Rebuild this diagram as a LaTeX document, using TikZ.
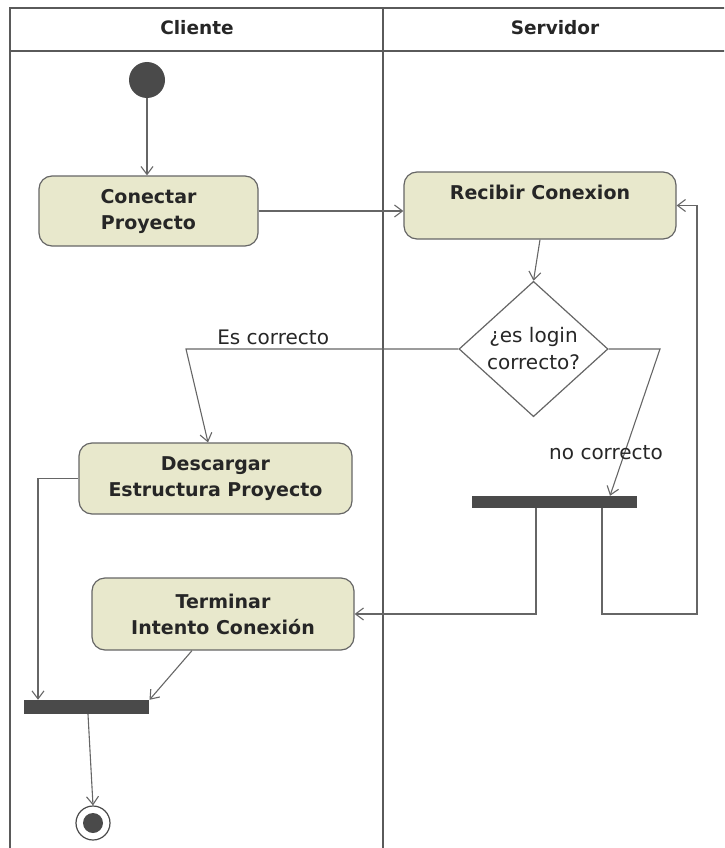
\documentclass[tikz,border=0pt]{standalone}
\usepackage{fontspec}
\setmainfont{DejaVu Sans}
\usetikzlibrary{arrows.meta,shapes.geometric}
\definecolor{actfill}{RGB}{232,232,204}
\definecolor{edge}{RGB}{102,102,102}
\definecolor{darkfill}{RGB}{74,74,74}
\definecolor{frame}{RGB}{90,90,90}
\begin{document}
\begin{tikzpicture}[x=1pt,y=-1pt,
  act/.style={draw=edge, line width=1.2pt, fill=actfill, rounded corners=13pt,
    align=center, font=\fontsize{19}{26}\selectfont\bfseries, text=black!85,
    inner sep=0pt},
  decision/.style={diamond, draw=edge, line width=1.2pt, fill=white, inner sep=0pt,
    align=center, font=\fontsize{20}{27}\selectfont, text=black!85},
  bar/.style={fill=darkfill, inner sep=0pt},
  startnode/.style={circle, fill=darkfill, inner sep=0pt, minimum size=36pt},
  endnode/.style={circle, draw=darkfill, line width=1.2pt, fill=white, inner sep=0pt, minimum size=34pt},
  flow/.style={draw=edge, line width=1.1pt, -{Straight Barb[length=8pt,width=12pt]}},
  guard/.style={font=\fontsize{20}{22}\selectfont, text=black!85},
  lanehead/.style={font=\fontsize{18.5}{20}\selectfont\bfseries, text=black!85},
  lane/.style={draw=frame, line width=2.2pt}]
\useasboundingbox (0,0) rectangle (724,848);
\clip (0,0) rectangle (724,848);

% swimlanes
\draw[lane] (10,8) rectangle (740,870);
\draw[lane] (10,51) -- (740,51);
\draw[lane] (383,8) -- (383,870);
\node[lanehead] (hcli) at (197,28) {Cliente};
\node[lanehead] (hser) at (555,28) {Servidor};

% nodes
\node[startnode] (ini) at (147,80) {};
\node[act, minimum width=219pt, minimum height=70pt] (con) at (148.5,211) {Conectar\\Proyecto};
\node[act, minimum width=272pt, minimum height=67pt] (rec) at (540,205.5) {Recibir Conexion\\\mbox{}};
\node[decision, minimum width=149pt, minimum height=132pt] (dec) at (533.5,349) {¿es login\\correcto?};
\node[act, minimum width=273pt, minimum height=71pt] (des) at (215.5,478.5) {Descargar\\Estructura Proyecto};
\node[act, minimum width=262pt, minimum height=72pt] (ter) at (223,614) {Terminar\\Intento Conexión};
\node[bar, minimum width=165pt, minimum height=12pt] (fork) at (554.5,502) {};
\node[bar, minimum width=125pt, minimum height=14pt] (join) at (86.5,707) {};
\node[endnode] (fin) at (93,823) {};
\fill[darkfill] (fin.center) circle[radius=10pt];

% transitions
\draw[flow] (ini) -- (ini |- con.north);
\draw[flow] (con.east) -- (con.east -| rec.west);
\draw[flow] (rec.south) -- (dec.north);
\draw[flow] (dec.west) -- node[guard, above, pos=0.68] {Es correcto} (186,349) -- ([xshift=-7.5pt]des.north);
\draw[flow] (dec.east) -- (660,349) -- ([xshift=55.5pt]fork.north);
\node[guard] (nok) at (606,453) {no correcto};
\draw[flow] ([xshift=-18.5pt]fork.south) |- (ter.east);
\draw[flow] ([xshift=47.5pt]fork.south) |- (697,614) |- (rec.east);
\draw[flow] (des.west) -| ([xshift=-48.5pt]join.north);
\draw[flow] ([xshift=-31pt]ter.south) -- ([xshift=63pt]join.north);
\draw[flow] ([xshift=1.5pt]join.south) -- (fin.north);
\end{tikzpicture}
\end{document}
